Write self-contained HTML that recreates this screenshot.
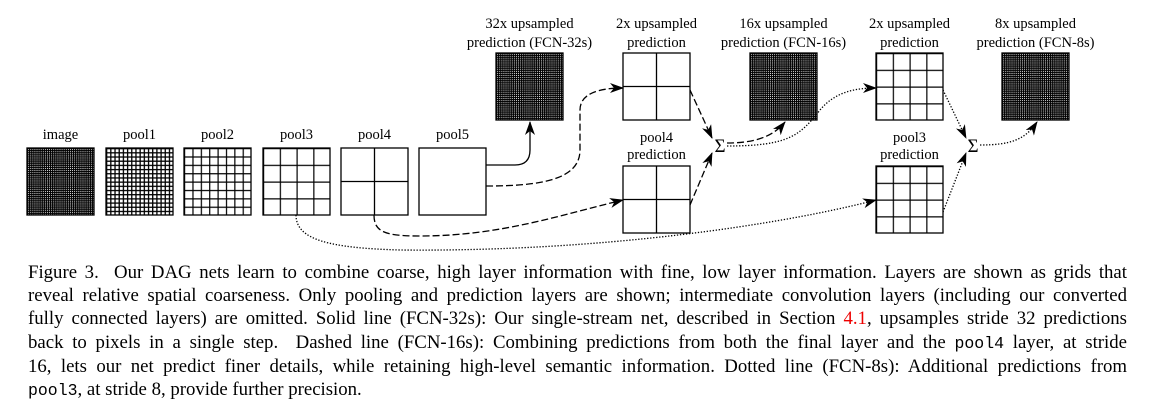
<!DOCTYPE html>
<html><head><meta charset="utf-8"><style>
html,body{margin:0;padding:0;background:#fff;}
body{width:1151px;height:412px;position:relative;overflow:hidden;}
svg{position:absolute;left:0;top:0;}
.cap{position:absolute;left:28px;top:261px;width:1099px;font-family:"Liberation Serif",serif;font-size:18.8px;line-height:23.2px;color:#000;}
.cap div{text-align:justify;text-align-last:justify;white-space:nowrap;}
.cap div.last{text-align-last:left;}
.m{font-family:"Liberation Mono",monospace;font-size:16.5px;}
.r{color:#e00;}
</style></head><body>
<svg width="1151" height="260" viewBox="0 0 1151 260">
<defs>
<marker id="a" markerWidth="14" markerHeight="10" refX="13" refY="5" orient="auto" markerUnits="userSpaceOnUse"><path d="M0,0 L14,5 L0,10 L4,5 z" fill="#000"/></marker>
<pattern id="p1" patternUnits="userSpaceOnUse" x="27" y="148" width="2.09" height="2.09"><path d="M0 0H2.09M0 0V2.09" stroke="#000" stroke-width="2.4"/></pattern>
<pattern id="p2" patternUnits="userSpaceOnUse" x="106" y="148" width="4.1875" height="4.1875"><path d="M0 0H4.19M0 0V4.19" stroke="#000" stroke-width="2.6"/></pattern>
<pattern id="p3" patternUnits="userSpaceOnUse" x="184" y="148" width="8.375" height="8.375"><path d="M0 0H8.4M0 0V8.4" stroke="#000" stroke-width="2.4"/></pattern>
<pattern id="p4" patternUnits="userSpaceOnUse" x="263" y="148" width="16.75" height="16.75"><path d="M0 0H16.75M0 0V16.75" stroke="#000" stroke-width="2.4"/></pattern>
<pattern id="q1" patternUnits="userSpaceOnUse" x="496" y="53" width="2.09" height="2.09"><path d="M0 0H2.09M0 0V2.09" stroke="#000" stroke-width="2.4"/></pattern>
<pattern id="q2" patternUnits="userSpaceOnUse" x="750" y="53" width="2.09" height="2.09"><path d="M0 0H2.09M0 0V2.09" stroke="#000" stroke-width="2.4"/></pattern>
<pattern id="q3" patternUnits="userSpaceOnUse" x="1002" y="53" width="2.09" height="2.09"><path d="M0 0H2.09M0 0V2.09" stroke="#000" stroke-width="2.4"/></pattern>
<pattern id="q4" patternUnits="userSpaceOnUse" x="876" y="53" width="16.75" height="16.75"><path d="M0 0H16.75M0 0V16.75" stroke="#000" stroke-width="2.4"/></pattern>
<pattern id="q5" patternUnits="userSpaceOnUse" x="876" y="166" width="16.75" height="16.75"><path d="M0 0H16.75M0 0V16.75" stroke="#000" stroke-width="2.4"/></pattern>
</defs>
<g stroke="#000" stroke-width="1.3">
<rect x="27" y="148" width="67" height="67" fill="url(#p1)"/>
<rect x="106" y="148" width="67" height="67" fill="url(#p2)"/>
<rect x="184" y="148" width="67" height="67" fill="url(#p3)"/>
<rect x="263" y="148" width="67" height="67" fill="url(#p4)"/>
<rect x="341" y="148" width="67" height="67" fill="#fff"/><path d="M374.5 148V215M341 181.5H408"/>
<rect x="419" y="148" width="67" height="67" fill="#fff"/>
<rect x="496" y="53" width="67" height="67" fill="url(#q1)"/>
<rect x="623" y="53" width="67" height="67" fill="#fff"/><path d="M656.5 53V120M623 86.5H690"/>
<rect x="750" y="53" width="67" height="67" fill="url(#q2)"/>
<rect x="876" y="53" width="67" height="67" fill="url(#q4)"/>
<rect x="1002" y="53" width="67" height="67" fill="url(#q3)"/>
<rect x="623" y="166" width="67" height="67" fill="#fff"/><path d="M656.5 166V233M623 199.5H690"/>
<rect x="876" y="166" width="67" height="67" fill="url(#q5)"/>
</g>
<g fill="#000" font-family="Liberation Serif, serif" font-size="14.5" text-anchor="middle">
<text x="60.5" y="139">image</text><text x="139.5" y="139">pool1</text><text x="217.5" y="139">pool2</text>
<text x="296.5" y="139">pool3</text><text x="374.5" y="139">pool4</text><text x="452.5" y="139">pool5</text>
<text x="529.5" y="28">32x upsampled</text><text x="529.5" y="47">prediction (FCN-32s)</text>
<text x="656.5" y="28">2x upsampled</text><text x="656.5" y="47">prediction</text>
<text x="783.5" y="28">16x upsampled</text><text x="783.5" y="47">prediction (FCN-16s)</text>
<text x="909.5" y="28">2x upsampled</text><text x="909.5" y="47">prediction</text>
<text x="1035.5" y="28">8x upsampled</text><text x="1035.5" y="47">prediction (FCN-8s)</text>
<text x="656.5" y="142">pool4</text><text x="656.5" y="159">prediction</text>
<text x="909.5" y="142">pool3</text><text x="909.5" y="159">prediction</text>
<text x="720" y="152" font-size="19">Σ</text><text x="973" y="152" font-size="19">Σ</text>
</g>
<g fill="none" stroke="#000" stroke-width="1.3">
<path d="M486 165L515 165Q530 165 530 150L530 122" marker-end="url(#a)"/>
<g stroke-dasharray="7 3">
<path d="M486 186C540 186 580 180 580 150L580 110C580 93 600 88 623 88" marker-end="url(#a)"/>
<path d="M374 215C374 232 385 236 420 236C500 236 560 215 623 200" marker-end="url(#a)"/>
<path d="M690 90L712 138" marker-end="url(#a)"/>
<path d="M690 205L712 153" marker-end="url(#a)"/>
<path d="M727 143C752 143 772 138 785 122" marker-end="url(#a)"/>
</g>
<g stroke-dasharray="1.3 1.7">
<path d="M296 215C296 240 330 248 400 250C600 252 780 225 876 200" marker-end="url(#a)"/>
<path d="M727 146C790 146 800 135 820 110C835 92 855 88 876 88" marker-end="url(#a)"/>
<path d="M943 90L966 138" marker-end="url(#a)"/>
<path d="M943 212L966 153" marker-end="url(#a)"/>
<path d="M980 145C1010 145 1025 140 1037 122" marker-end="url(#a)"/>
</g>
</g>
</svg>
<div class="cap">
<div>Figure 3.&nbsp; Our DAG nets learn to combine coarse, high layer information with fine, low layer information. Layers are shown as grids that</div>
<div>reveal relative spatial coarseness. Only pooling and prediction layers are shown; intermediate convolution layers (including our converted</div>
<div>fully connected layers) are omitted. Solid line (FCN-32s): Our single-stream net, described in Section <span class="r">4.1</span>, upsamples stride 32 predictions</div>
<div>back to pixels in a single step.&nbsp; Dashed line (FCN-16s): Combining predictions from both the final layer and the <span class="m">pool4</span> layer, at stride</div>
<div>16, lets our net predict finer details, while retaining high-level semantic information. Dotted line (FCN-8s): Additional predictions from</div>
<div class="last"><span class="m">pool3</span>, at stride 8, provide further precision.</div>
</div>
</body></html>
